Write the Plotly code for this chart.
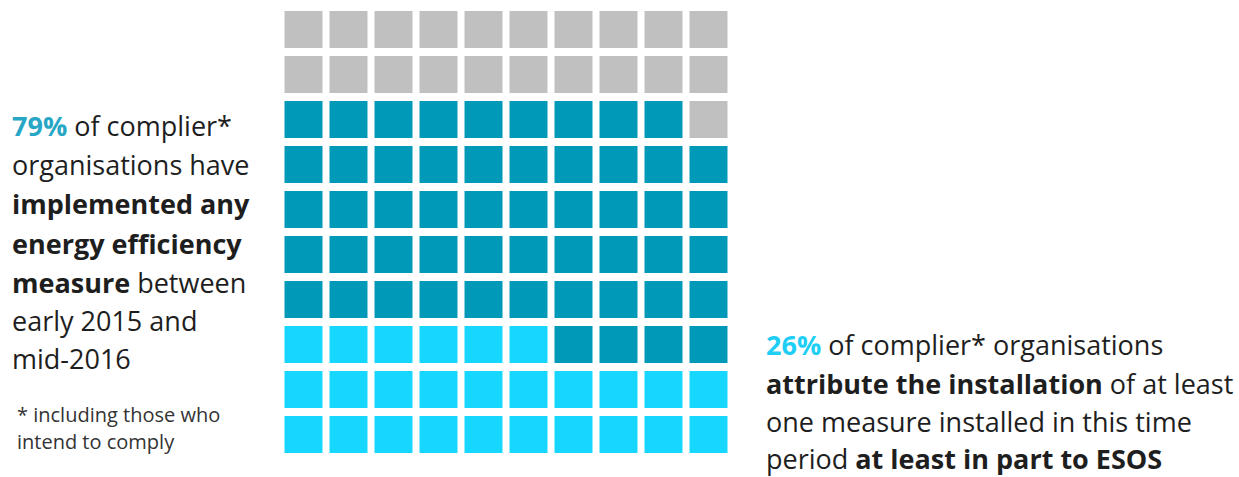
import plotly.graph_objects as go

# ---- data ----
categories = ["Attributed at least in part to ESOS", "Implemented a measure", "Not implemented"]
counts = [26, 53, 21]          # out of 100 organisations
colors = ["#17D6FF", "#0099B8", "#C0C0C0"]
n_cols = 10
n_rows = 10

left_lines = [
    "<span style='color:#27A6C6'><b>79%</b></span> of complier*",
    "organisations have",
    "<b>implemented any</b>",
    "<b>energy efficiency</b>",
    "<b>measure</b> between",
    "early 2015 and",
    "mid-2016",
]
footnote_lines = ["* including those who", "intend to comply"]
right_lines = [
    "<span style='color:#1ECEF5'><b>26%</b></span> of complier* organisations",
    "<b>attribute the installation</b> of at least",
    "one measure installed in this time",
    "period <b>at least in part to ESOS</b>",
]

# ---- build waffle grid: fill from bottom-left, row by row ----
seq = []
for i, c in enumerate(counts):
    seq += [i] * c
z = [[None] * n_cols for _ in range(n_rows)]
for k, v in enumerate(seq):
    r = n_rows - 1 - k // n_cols
    col = k % n_cols
    z[r][col] = v

W, H = 1239, 477
colorscale = [[0, colors[0]], [1 / 3, colors[0]], [1 / 3, colors[1]], [2 / 3, colors[1]],
              [2 / 3, colors[2]], [1, colors[2]]]

fig = go.Figure(go.Heatmap(
    z=z, x=list(range(n_cols)), y=list(range(n_rows)),
    zmin=-0.5, zmax=2.5, colorscale=colorscale, showscale=False,
    xgap=7, ygap=8, hoverinfo="skip",
))

x0, x1 = 281.5, 731.5
y_top, y_bot = 7, 457
fig.update_layout(
    width=W, height=H, margin=dict(l=0, r=0, t=0, b=0),
    paper_bgcolor="white", plot_bgcolor="white",
    xaxis=dict(domain=[x0 / W, x1 / W], visible=False, range=[-0.5, n_cols - 0.5]),
    yaxis=dict(domain=[(H - y_bot) / H, (H - y_top) / H], visible=False,
               range=[n_rows - 0.5, -0.5]),
    showlegend=False,
    font=dict(family="Open Sans, Lato, sans-serif", color="#1E1E1E"),
)

ann = []
left_y = [125, 164, 203, 243, 282, 320, 358]
for t, yy in zip(left_lines, left_y):
    ann.append(dict(text=t, x=10 / W, y=1 - yy / H, xref="paper", yref="paper",
                    xanchor="left", yanchor="middle", showarrow=False,
                    font=dict(size=27)))
for t, yy in zip(footnote_lines, [414, 441]):
    ann.append(dict(text=t, x=15 / W, y=1 - yy / H, xref="paper", yref="paper",
                    xanchor="left", yanchor="middle", showarrow=False,
                    font=dict(size=20, color="#333333")))
for t, yy in zip(right_lines, [344, 383, 421, 458]):
    ann.append(dict(text=t, x=764 / W, y=1 - yy / H, xref="paper", yref="paper",
                    xanchor="left", yanchor="middle", showarrow=False,
                    font=dict(size=27)))
fig.update_layout(annotations=ann)

fig.write_html("out.html")
